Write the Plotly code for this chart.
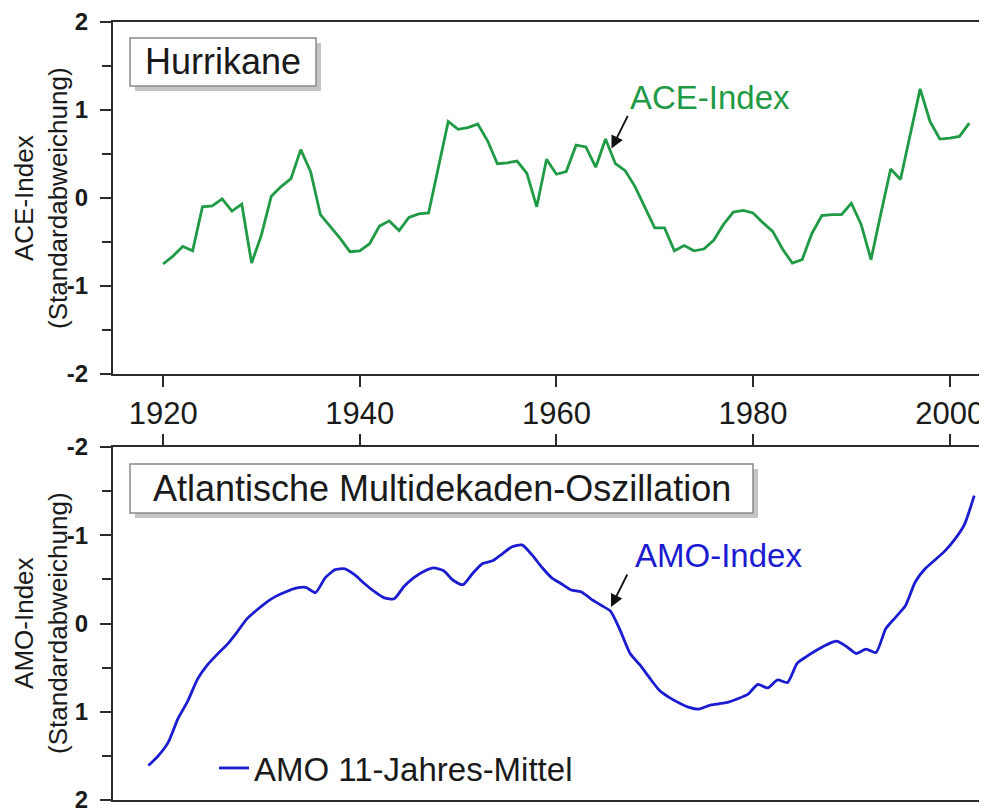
import plotly.graph_objects as go

# ---------------- data ----------------
ace_years = list(range(1920, 2003))
ace_values = [
    -0.75, -0.66, -0.55, -0.60, -0.10, -0.09, -0.01, -0.15, -0.07, -0.74,  # 1920-1929
    -0.42, 0.02, 0.13, 0.22, 0.55, 0.30, -0.19, -0.32, -0.46, -0.61,       # 1930-1939
    -0.60, -0.52, -0.32, -0.26, -0.37, -0.22, -0.18, -0.17, 0.35, 0.87,    # 1940-1949
    0.78, 0.80, 0.84, 0.65, 0.39, 0.40, 0.42, 0.28, -0.10, 0.44,           # 1950-1959
    0.27, 0.30, 0.60, 0.58, 0.35, 0.67, 0.39, 0.31, 0.13, -0.10,           # 1960-1969
    -0.34, -0.34, -0.60, -0.54, -0.60, -0.58, -0.48, -0.30, -0.16, -0.14,  # 1970-1979
    -0.17, -0.28, -0.38, -0.58, -0.74, -0.70, -0.40, -0.20, -0.19, -0.19,  # 1980-1989
    -0.06, -0.30, -0.70, -0.18, 0.33, 0.21, 0.72, 1.24, 0.87, 0.67,        # 1990-1999
    0.68, 0.70, 0.85,                                                      # 2000-2002
]

amo_years = [1918.5 + i for i in range(85)]
amo_values = [
    1.61, 1.50, 1.35, 1.08, 0.88, 0.63, 0.47, 0.35, 0.24, 0.10,            # 1918.5-1927.5
    -0.05, -0.15, -0.24, -0.31, -0.36, -0.40, -0.41, -0.35, -0.52, -0.61,  # 1928.5-1937.5
    -0.62, -0.55, -0.45, -0.36, -0.29, -0.28, -0.42, -0.52, -0.59, -0.63,  # 1938.5-1947.5
    -0.60, -0.49, -0.44, -0.57, -0.68, -0.71, -0.79, -0.87, -0.89, -0.78,  # 1948.5-1957.5
    -0.64, -0.52, -0.45, -0.38, -0.36, -0.28, -0.21, -0.14, 0.08, 0.34,    # 1958.5-1967.5
    0.47, 0.62, 0.76, 0.84, 0.90, 0.95, 0.97, 0.93, 0.91, 0.89,            # 1968.5-1977.5
    0.85, 0.80, 0.69, 0.73, 0.64, 0.67, 0.45, 0.37, 0.30, 0.24,            # 1978.5-1987.5
    0.20, 0.26, 0.34, 0.29, 0.33, 0.06, -0.07, -0.20, -0.47, -0.62,        # 1988.5-1997.5
    -0.72, -0.82, -0.95, -1.12, -1.45,                                     # 1998.5-2002.5
]

x_ticks = [1920, 1940, 1960, 1980, 2000]
y_ticks = [-2, -1, 0, 1, 2]
y_ticktext = ["-2", "-1", "0", "1", "2"]

# ---------------- styling ----------------
GREEN = "#1f9a45"
BLUE = "#1b1bd0"
AXIS = "#2b2b2b"
TEXT = "#1a1a1a"
FONT = "Liberation Sans, Arial, sans-serif"

OFF = 8                     # default page margin of the html body
W, H = 987 - OFF, 812 - OFF
ML, MR, MT, MB = 113 - OFF, 0, 22 - OFF, 12
PW = W - ML - MR
PH = H - MT - MB


def px(x):
    """page pixel x -> paper coordinate"""
    return (x - OFF - ML) / PW


def py(y):
    """page pixel y -> paper coordinate"""
    return (H - MB - (y - OFF)) / PH


fig = go.Figure()

fig.add_trace(go.Scatter(
    x=ace_years, y=ace_values, mode="lines", name="ACE-Index",
    line=dict(color=GREEN, width=2.8), showlegend=False,
    xaxis="x", yaxis="y",
))
fig.add_trace(go.Scatter(
    x=amo_years, y=amo_values, mode="lines", name="AMO 11-Jahres-Mittel",
    line=dict(color=BLUE, width=2.8, shape="spline", smoothing=0.6),
    showlegend=True, xaxis="x2", yaxis="y2",
))

xrange_ = [1914.9, 2003.8]

common_y = dict(
    tickmode="array", tickvals=y_ticks, ticktext=y_ticktext,
    ticks="outside", ticklen=11, tickwidth=1.5, tickcolor=AXIS,
    minor=dict(dtick=0.5, ticks="outside", ticklen=9, tickwidth=1.5, tickcolor=AXIS, showgrid=False),
    showline=True, linecolor=AXIS, linewidth=2,
    showgrid=False, zeroline=False,
    ticklabeloverflow="allow", ticklabelstandoff=7,
    tickfont=dict(family=FONT, size=24, color=TEXT, weight="bold"),
)

fig.update_layout(
    width=W, height=H,
    margin=dict(l=ML, r=MR, t=MT, b=MB),
    paper_bgcolor="white", plot_bgcolor="white",
    font=dict(family=FONT, color=TEXT),
    xaxis=dict(
        domain=[0, 1], range=xrange_, anchor="y",
        tickmode="array", tickvals=x_ticks,
        ticks="outside", ticklen=11, tickwidth=1.5, tickcolor=AXIS,
        showline=True, linecolor=AXIS, linewidth=2, mirror=True,
        showgrid=False, zeroline=False,
        ticklabeloverflow="allow",
        tickfont=dict(family=FONT, size=31, color=TEXT),
    ),
    yaxis=dict(domain=[py(374), 1.0], range=[-2, 2], anchor="x", **common_y),
    xaxis2=dict(
        domain=[0, 1], range=xrange_, anchor="y2", side="top",
        tickmode="array", tickvals=x_ticks, showticklabels=False,
        ticks="outside", ticklen=11, tickwidth=1.5, tickcolor=AXIS,
        showline=True, linecolor=AXIS, linewidth=2, mirror=True,
        showgrid=False, zeroline=False,
    ),
    yaxis2=dict(domain=[0, py(447)], range=[2, -2], anchor="x2", **common_y),
    showlegend=True,
    legend=dict(
        x=px(214), y=py(768), xanchor="left", yanchor="middle",
        bgcolor="rgba(0,0,0,0)", borderwidth=0,
        font=dict(family=FONT, size=33, color=TEXT),
    ),
)

shapes = []
annotations = []


def label_box(x0, y0, x1, y1, text, size):
    shapes.append(dict(type="rect", xref="paper", yref="paper",
                       x0=px(x0 + 5), x1=px(x1 + 5), y0=py(y1 + 5), y1=py(y0 + 5),
                       fillcolor="#c4c4c4", line=dict(width=0), layer="above"))
    shapes.append(dict(type="rect", xref="paper", yref="paper",
                       x0=px(x0), x1=px(x1), y0=py(y1), y1=py(y0),
                       fillcolor="white", line=dict(color="#8a8a8a", width=1.5), layer="above"))
    annotations.append(dict(xref="paper", yref="paper", x=px((x0 + x1) / 2), y=py((y0 + y1) / 2),
                            text=text, showarrow=False, xanchor="center", yanchor="middle",
                            font=dict(family=FONT, size=size, color=TEXT)))


label_box(130, 38, 316, 86, "Hurrikane", 36)
label_box(130, 464, 753, 513, "Atlantische Multidekaden-Oszillation", 36)

# series labels with arrows
annotations.append(dict(xref="paper", yref="paper", x=px(710), y=py(98), text="ACE-Index",
                        showarrow=False, xanchor="center", yanchor="middle",
                        font=dict(family=FONT, size=33, color=GREEN)))
annotations.append(dict(xref="paper", yref="paper", x=px(611.5), y=py(148.5), ax=17, ay=-34,
                        text="", showarrow=True, arrowhead=2, arrowsize=1.4, arrowwidth=1.8,
                        arrowcolor="#111111"))
annotations.append(dict(xref="paper", yref="paper", x=px(718), y=py(555), text="AMO-Index",
                        showarrow=False, xanchor="center", yanchor="middle",
                        font=dict(family=FONT, size=33, color=BLUE)))
annotations.append(dict(xref="paper", yref="paper", x=px(611), y=py(607), ax=17, ay=-34,
                        text="", showarrow=True, arrowhead=2, arrowsize=1.4, arrowwidth=1.8,
                        arrowcolor="#111111"))

# y-axis titles
annotations.append(dict(xref="paper", yref="paper", x=px(41), y=py(198),
                        text="ACE-Index<br>(Standardabweichung)", textangle=-90,
                        showarrow=False, xanchor="center", yanchor="middle",
                        font=dict(family=FONT, size=26, color=TEXT)))
annotations.append(dict(xref="paper", yref="paper", x=px(41), y=py(623),
                        text="AMO-Index<br>(Standardabweichung)", textangle=-90,
                        showarrow=False, xanchor="center", yanchor="middle",
                        font=dict(family=FONT, size=26, color=TEXT)))

fig.update_layout(shapes=shapes, annotations=annotations)

fig.write_html("out.html")
